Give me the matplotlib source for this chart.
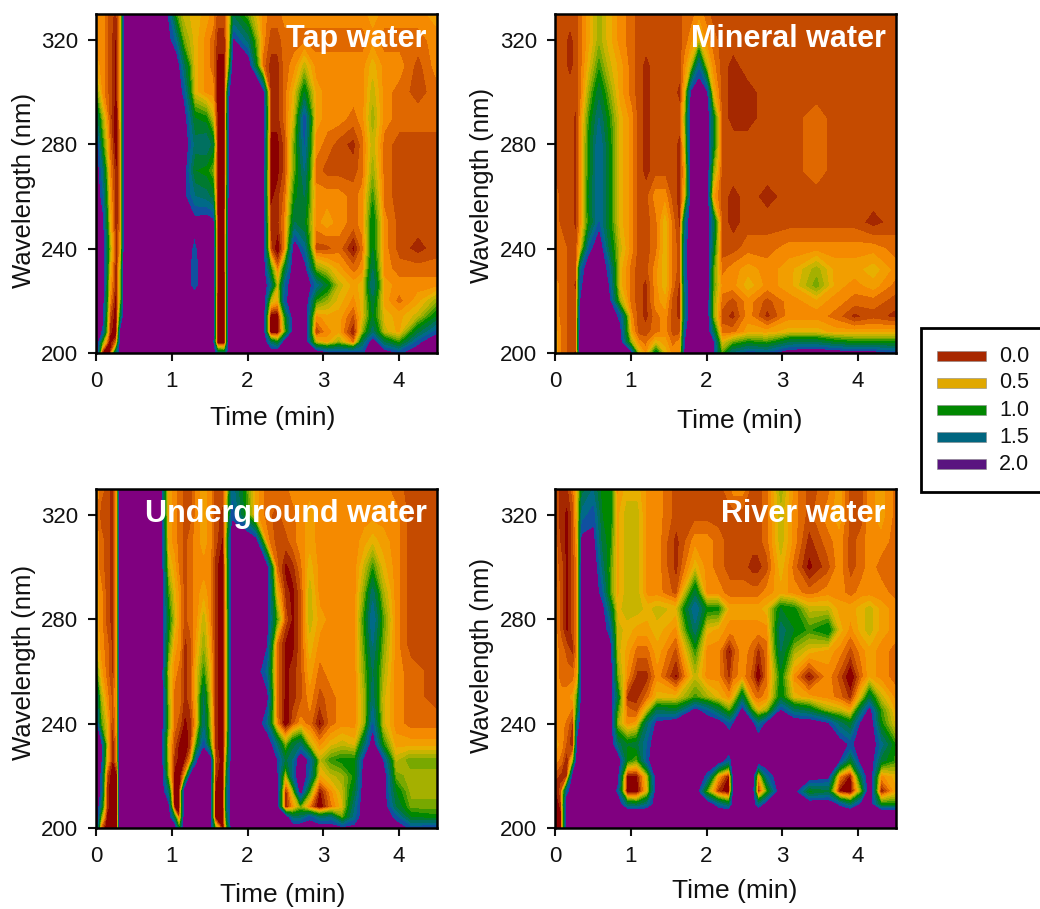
import numpy as np
import matplotlib
matplotlib.use('Agg')
import matplotlib.pyplot as plt
from matplotlib.patches import Rectangle

plt.rcParams['font.family'] = ['Liberation Sans', 'DejaVu Sans']

# absorbance x 10, one row per wavelength
wl_std = [200, 204, 208, 214, 220, 226, 232, 240, 250, 260, 270, 280, 290, 300, 310, 320, 330]

tap_t = [0, .08, .18, .27, .33, .38, .9, 1.05, 1.15, 1.3, 1.45, 1.54, 1.6, 1.7, 1.76, 1.82, 2.0,
         2.2, 2.3, 2.4, 2.5, 2.62, 2.75, 2.9, 3.05, 3.2, 3.4, 3.52, 3.65, 3.8, 4.0, 4.25, 4.5]
tap_z = [
    [22,-1,-2,14,22, 22,22,22,22,22, 22,22,14,12,22, 22,22,22,22,22, 22,22,22,22,19, 19,19,18,22,21, 18,21,22],
    [22,8,-2,2,22, 22,22,22,22,22, 22,19,-2,-2,21, 22,22,22,14,10, 22,22,22,6,4, 7,2,13,21,13, 9,18,22],
    [22,18,0,-2,21, 22,22,22,22,22, 22,22,-2,-2,22, 22,22,22,-2,-2, 8,22,22,0,3, 4,-1,7,14,6, 4,12,18],
    [22,20,1,-2,12, 22,22,22,22,22, 22,22,-2,-2,22, 22,22,22,-2,-2, 10,22,22,3,4, 4,1,5,11,5, 4,6,11],
    [22,21,3,-2,8, 22,22,22,22,22, 22,22,-2,-2,22, 22,22,22,6,4, 18,22,22,9,7, 5,3,5,12,4, 2,4,7],
    [22,22,4,-1,8, 22,22,22,22,17, 22,22,-1,-2,22, 22,22,22,15,5, 17,22,22,16,11, 6,4,5,15,4, 3,3,3],
    [22,22,5,-1,7, 22,22,22,22,17, 22,22,-1,-1,22, 22,22,21,10,2, 12,22,20,8,6, 4,2,3,13,3, 2,2,2],
    [22,22,7,-1,4, 22,22,22,22,18, 22,22,-1,-1,22, 22,22,21,1,-2, 3,21,16,1,1, 2,-1,2,11,3, 1,0,1],
    [22,20,5,-1,3, 22,22,22,22,20, 21,20,-1,-1,21, 22,22,21,0,0, 3,13,11,3,4, 3,2,3,11,3, 1,1,1],
    [22,17,4,-1,3, 22,22,22,20,15, 14,12,-1,-1,20, 22,22,20,-1,0, 2,10,13,3,3, 3,2,3,9,2, 1,1,1],
    [21,15,3,-1,3, 22,22,22,21,11, 10,8,-1,-2,20, 22,22,20,-1,-1, 1,8,15,2,1, 1,1,2,7,2, 1,1,1],
    [20,10,2,-2,3, 22,22,22,22,14, 15,12,-1,-2,20, 22,22,21,-1,-1, 1,8,17,3,2, 1,0,2,6,2, 1,1,1],
    [14,7,1,-2,4, 22,22,22,21,11, 10,6,-1,-1,20, 22,22,22,0,0, 2,6,18,4,3, 3,2,3,7,3, 2,2,2],
    [8,3,1,-1,4, 22,22,22,18,5, 3,3,-1,-1,18, 22,22,20,0,0, 2,5,11,4,3, 3,3,3,6,3, 2,1,2],
    [4,3,1,-1,4, 22,22,22,14,5, 3,2,-1,-1,8, 22,22,2,0,0, 2,3,6,3,3, 3,3,3,5,3, 3,1,3],
    [3,3,1,-1,4, 22,22,16,8,5, 3,2,0,0,5, 19,14,3,1,1, 2,2,2,2,2, 2,2,2,3,2, 2,2,3],
    [3,3,1,0,4, 22,22,9,6,5, 4,3,1,1,5, 12,8,3,2,2, 3,3,3,3,3, 3,3,3,4,3, 3,3,4],
]

mineral_t = [0, .1, .2, .28, .34, .45, .58, .7, .85, 1.0, 1.1, 1.2, 1.33, 1.45, 1.55,
             1.65, 1.72, 1.8, 1.9, 2.0, 2.08, 2.2, 2.35, 2.55, 2.8, 3.1, 3.45, 3.7, 3.95, 4.2, 4.5]
mineral_z = [
    [4,2,1,0,22, 22,22,22,22,19, 6,3,11,5,3, 3,20,22,22,22, 20,8,15,18,17, 21,22,21,20,20, 18],
    [4,2,1,1,22, 22,22,22,21,7, 3,2,5,4,2, 3,19,22,22,22, 20,5,8,10,9, 13,13,11,10,10, 10],
    [4,2,1,1,22, 22,22,22,20,4, 1,1,2,3,1, 1,18,22,22,22, 14,2,2,4,4, 5,5,4,4,4, 4],
    [3,2,1,1,21, 22,22,22,18,3, 1,0,2,3,1, 0,15,22,22,22, 8,1,0,3,0, 3,3,2,0,1, 0],
    [3,2,1,1,19, 22,22,21,7,2, 1,0,3,4,1, 0,15,22,22,22, 8,2,1,3,1, 3,4,3,2,2, 1],
    [3,2,1,0,18, 22,22,19,5,2, 1,0,3,5,2, 0,16,22,22,22, 9,3,3,5,3, 4,8,4,3,4, 2],
    [2,2,1,1,16, 22,22,18,5,2, 1,1,3,5,2, 1,17,22,22,22, 9,2,3,4,3, 4,7,4,4,5, 3],
    [2,2,1,1,5, 17,22,13,6,3, 1,1,2,5,2, 1,17,22,22,22, 12,1,1,2,2, 3,3,3,3,3, 2],
    [2,1,1,0,3, 10,17,11,5,3, 1,1,2,5,2, 0,15,22,22,22, 14,1,0,1,1, 1,1,1,1,0, 1],
    [2,1,1,0,3, 11,17,11,5,3, 1,1,3,3,1, 0,5,20,22,21, 4,1,0,1,0, 1,1,1,1,1, 1],
    [1,1,1,0,3, 10,17,11,5,3, 1,0,1,1,1, 0,4,21,22,22, 8,1,1,1,1, 1,2,1,1,1, 1],
    [1,1,1,0,3, 10,17,11,5,3, 1,0,1,1,1, 0,6,22,22,22, 12,1,1,1,1, 1,2,1,1,1, 1],
    [1,1,1,0,3, 9,15,10,5,3, 1,0,1,1,1, 1,7,22,22,22, 12,1,0,0,1, 1,2,1,1,1, 1],
    [1,1,1,1,2, 7,12,8,4,2, 1,0,1,1,1, 0,5,19,22,19, 5,1,0,0,1, 1,1,1,1,1, 1],
    [1,1,0,1,2, 5,9,6,4,2, 1,0,1,1,1, 1,3,6,16,6, 3,1,0,1,1, 1,1,1,1,1, 1],
    [1,1,0,1,2, 4,7,5,3,2, 1,1,1,1,1, 1,2,3,5,3, 2,1,1,1,1, 1,1,1,1,1, 1],
    [1,1,1,1,2, 4,7,5,3,2, 1,1,1,1,1, 1,2,2,3,2, 1,1,1,1,1, 1,1,1,1,1, 1],
]

under_t = [0, .06, .14, .22, .28, .32, .85, .95, 1.03, 1.1, 1.17, 1.25,
           1.33, 1.42, 1.5, 1.57, 1.68, 1.73, 1.8, 2.1, 2.25, 2.38, 2.5, 2.6,
           2.7, 2.82, 2.95, 3.1, 3.25, 3.42, 3.55, 3.65, 3.78, 3.95, 4.15, 4.5]
under_z = [
    [22,2,-2,-2,-1,22, 22,22,22,8,22,22, 22,22,22,8,-2,8, 22,22,22,22,22,21, 22,21,21,21,19,20, 22,22,22,21,18,19],
    [22,8,-1,-2,-2,22, 22,21,12,0,21,22, 22,22,22,-1,-2,12, 22,22,22,22,21,14, 14,18,14,15,8,16, 22,22,22,18,11,10],
    [22,14,0,-2,-1,22, 22,20,-1,-2,20,22, 22,22,22,-1,-2,14, 22,22,22,21,-1,3, 7,2,-2,2,5,15, 22,22,22,13,8,8],
    [22,18,0,-2,-1,22, 22,14,-2,-2,21,22, 22,22,22,-1,-2,14, 22,22,22,21,-1,6, 20,8,-1,3,6,12, 22,22,21,11,7,7],
    [22,18,1,-2,-1,22, 22,7,-1,-2,3,20, 22,22,22,0,-2,12, 22,22,22,20,5,16, 22,16,4,6,7,10, 22,22,22,8,7,7],
    [22,20,5,-1,3,22, 22,6,0,-1,-1,3, 18,22,22,1,-2,9, 22,22,22,19,12,15, 22,17,6,9,10,10, 20,22,19,6,8,8],
    [22,20,6,-1,3,22, 21,5,1,-1,-2,0, 9,18,9,0,-2,7, 22,22,22,15,7,12, 14,6,3,5,6,5, 14,21,10,4,4,4],
    [19,9,5,0,4,22, 22,8,2,1,-1,0, 4,14,7,0,-2,6, 22,22,16,3,-2,1, 3,2,-1,2,3,3, 7,17,6,3,2,2],
    [15,7,3,1,4,22, 22,7,2,2,0,1, 5,13,6,0,-2,6, 22,22,20,2,-1,0, 1,3,1,2,3,3, 7,14,6,3,2,1],
    [9,4,2,0,4,22, 22,6,3,2,0,1, 5,9,5,0,-2,6, 22,21,16,2,-1,0, 1,4,2,3,3,3, 8,13,7,3,2,1],
    [5,3,2,0,4,22, 22,9,4,3,0,1, 4,7,4,0,-2,6, 22,21,19,2,-1,-1, 1,5,3,3,3,3, 9,15,8,3,1,1],
    [4,3,1,0,4,22, 22,11,6,3,1,2, 3,6,3,0,-2,6, 22,22,20,9,1,-1, 1,6,4,3,3,3, 10,17,9,3,1,1],
    [4,3,1,0,4,22, 22,9,5,3,1,2, 3,4,3,0,-2,7, 22,22,21,5,0,-1, 1,6,3,3,3,3, 8,14,7,3,1,1],
    [3,2,1,0,4,22, 22,6,4,2,1,2, 3,3,3,0,-2,7, 22,22,20,2,-1,0, 2,5,3,3,3,3, 6,9,5,3,1,1],
    [3,2,1,0,4,22, 21,4,3,2,1,2, 3,4,3,1,-1,8, 22,21,3,1,1,2, 3,4,3,3,3,3, 4,5,4,3,1,1],
    [3,1,1,0,4,22, 20,4,3,2,1,1, 3,4,3,1,0,6, 18,4,2,1,2,2, 3,4,3,3,3,3, 3,3,3,3,1,1],
    [3,2,1,0,4,22, 20,4,3,2,1,1, 3,4,3,1,1,5, 16,4,2,2,2,3, 3,3,3,3,3,3, 3,3,3,2,1,1],
]

wl_river = [200, 206, 209, 214, 220, 226, 232, 240, 245, 250, 258, 268, 276, 284, 290, 300, 310, 320, 330]
river_t = [0, .08, .16, .24, .3, .36, .5, .62, .72, .82, .95, 1.08,
           1.22, 1.35, 1.6, 1.85, 2.0, 2.15, 2.3, 2.36, 2.47, 2.6, 2.68, 2.8,
           2.98, 3.15, 3.35, 3.6, 3.75, 3.9, 4.05, 4.15, 4.3, 4.5]
river_z = [
    [-2,-1,22,22,22,22, 22,22,22,22,22,22, 22,22,22,22,22,22, 22,22,22,22,22,22, 22,22,22,22,22,22, 22,22,22,22],
    [-2,-1,22,22,22,22, 22,22,22,22,22,22, 22,22,22,22,22,22, 22,22,22,22,22,22, 22,22,22,22,22,22, 22,22,22,22],
    [-2,0,22,22,22,22, 22,22,22,22,13,12, 15,22,22,22,22,16, 12,22,22,22,14,21, 22,22,22,22,18,13, 20,21,10,10],
    [-1,1,17,22,22,22, 22,22,22,18,-2,-2, 5,22,21,22,8,0, -2,20,22,22,-1,8, 22,20,10,12,-1,-2, 8,22,-1,4],
    [1,0,0,20,22,22, 22,22,22,20,-1,-1, 6,22,22,22,18,4, -1,21,22,22,3,16, 22,22,22,20,3,-1, 14,22,3,5],
    [3,2,-1,6,22,22, 22,22,22,22,10,8, 18,22,22,22,22,22, 16,22,22,22,22,22, 22,22,22,22,19,11, 21,22,12,9],
    [4,3,1,-1,20,22, 22,22,22,14,11,12, 17,22,22,22,22,22, 22,22,22,22,22,22, 22,22,22,22,21,18, 21,22,16,9],
    [3,3,2,0,16,22, 22,22,22,7,3,4, 14,20,22,22,22,21, 17,19,22,20,15,20, 22,22,22,19,14,11, 20,22,10,5],
    [3,3,3,2,11,22, 22,22,22,9,2,1, 6,13,12,20,17,13, 8,11,20,9,5,7, 19,14,12,7,6,4, 14,20,9,4],
    [3,3,3,4,9,22, 22,22,22,12,0,0, 2,5,5,9,7,5, 3,5,12,3,2,3, 11,5,4,3,2,0, 6,12,6,3],
    [3,2,2,2,4,22, 22,22,22,8,3,0, 0,3,-1,6,3,3, 0,2,3,1,-2,2, 10,3,-1,3,1,-2, 2,4,3,2],
    [3,2,1,0,3,22, 22,22,21,6,4,2, 2,4,1,9,3,3, -1,1,3,2,0,2, 13,7,5,4,3,1, 3,4,3,2],
    [3,1,-1,1,3,22, 22,21,17,6,5,4, 4,5,3,14,5,4, 3,3,3,3,3,3, 14,11,9,11,5,3, 5,6,4,3],
    [3,1,-1,1,3,22, 22,20,13,5,6,6, 5,6,5,17,10,10, 4,4,4,4,4,5, 11,10,6,6,4,4, 5,6,4,3],
    [3,1,-1,1,3,22, 22,17,9,4,6,6, 3,3,1,12,3,3, 2,2,2,2,2,3, 4,3,2,3,3,2, 3,3,3,2],
    [2,1,-1,1,3,22, 22,14,9,4,6,6, 3,3,0,5,3,2, 1,1,1,0,0,1, 5,2,-1,1,3,1, 2,3,2,2],
    [2,0,-1,1,4,20, 20,12,10,4,6,6, 3,3,0,3,3,2, 1,1,1,1,1,2, 6,3,0,2,3,1, 2,3,3,2],
    [1,0,-1,1,5,16, 18,11,11,4,6,6, 3,3,1,1,1,1, 1,1,1,1,1,2, 6,3,1,3,4,1, 1,3,4,2],
    [1,0,0,2,5,12, 15,10,11,3,5,5, 3,3,1,1,1,1, 2,3,3,1,1,2, 7,3,1,2,4,1, 1,3,4,2],
]

names = ['Tap water', 'Mineral water', 'Underground water', 'River water']
legend_values = ['0.0', '0.5', '1.0', '1.5', '2.0']
legend_colors = ['#A82800', '#E0A800', '#008800', '#006680', '#5A1480']

bounds = np.array([-.5, .5, 1.5, 2.5, 3.5, 4.5, 5.5, 6.5, 7.5, 8.5, 9.5, 11, 13, 15, 17, 19]) / 10
fills = ['#8B0000', '#A52800', '#C54B00', '#E06800', '#F58A00', '#F29E00', '#E8B000', '#C8B400',
         '#A5B000', '#78A800', '#3C9800', '#008800', '#007A30', '#007060', '#006A88', '#1050A0', '#800080']

W, H = 1040, 909
fig = plt.figure(figsize=(W / 100, H / 100), dpi=100)

panels = [
    (tap_t, wl_std, tap_z, 96, 14, 273, 418, 24, 190),
    (mineral_t, wl_std, mineral_z, 555, 14, 740, 421, 482, 185),
    (under_t, wl_std, under_z, 96, 489, 283, 895, 24, 662),
    (river_t, wl_river, river_z, 555, 489, 735, 891, 482, 655),
]

for name, (t, wl, z, x0, y0, xlab_x, xlab_y, ylab_x, ylab_y) in zip(names, panels):
    ax = fig.add_axes([x0 / W, 1 - (y0 + 339) / H, 341 / W, 339 / H])
    cs = ax.contourf(t, wl, np.array(z) / 10, levels=bounds, colors=fills, extend='both')
    cs.set_edgecolor('face')
    cs.set_linewidth(0.2)
    ax.set_xlim(0, 4.5)
    ax.set_ylim(200, 330)
    ax.set_xticks([0, 1, 2, 3, 4])
    ax.set_yticks([200, 240, 280, 320])
    ax.tick_params(length=6, width=1.5, labelsize=16, pad=7, colors='#111111')
    for s in ax.spines.values():
        s.set_linewidth(1.8)
    ax.text(0.97, 0.925, name, transform=ax.transAxes, ha='right', va='center',
            color='white', fontsize=22, fontweight='bold')
    fig.text(xlab_x / W, 1 - xlab_y / H, 'Time (min)', ha='center', va='center', fontsize=19, color='#111111')
    fig.text(ylab_x / W, 1 - ylab_y / H, 'Wavelength (nm)', ha='center', va='center',
             rotation=90, fontsize=18.5, color='#111111')

# legend box runs off the right edge in the original
fig.add_artist(Rectangle((921 / W, 1 - 492 / H), 140 / W, 164 / H, transform=fig.transFigure,
                         facecolor='white', edgecolor='black', linewidth=2))
for i, (label, c) in enumerate(zip(legend_values, legend_colors)):
    yc = 356 + i * 27
    fig.add_artist(Rectangle((937 / W, 1 - (yc + 5) / H), 49 / W, 10 / H, transform=fig.transFigure,
                             facecolor=c, edgecolor='#888888', linewidth=0.4))
    fig.text(999 / W, 1 - yc / H, label, ha='left', va='center', fontsize=15.5, color='#111111')

fig.savefig('out.png', dpi=100)
